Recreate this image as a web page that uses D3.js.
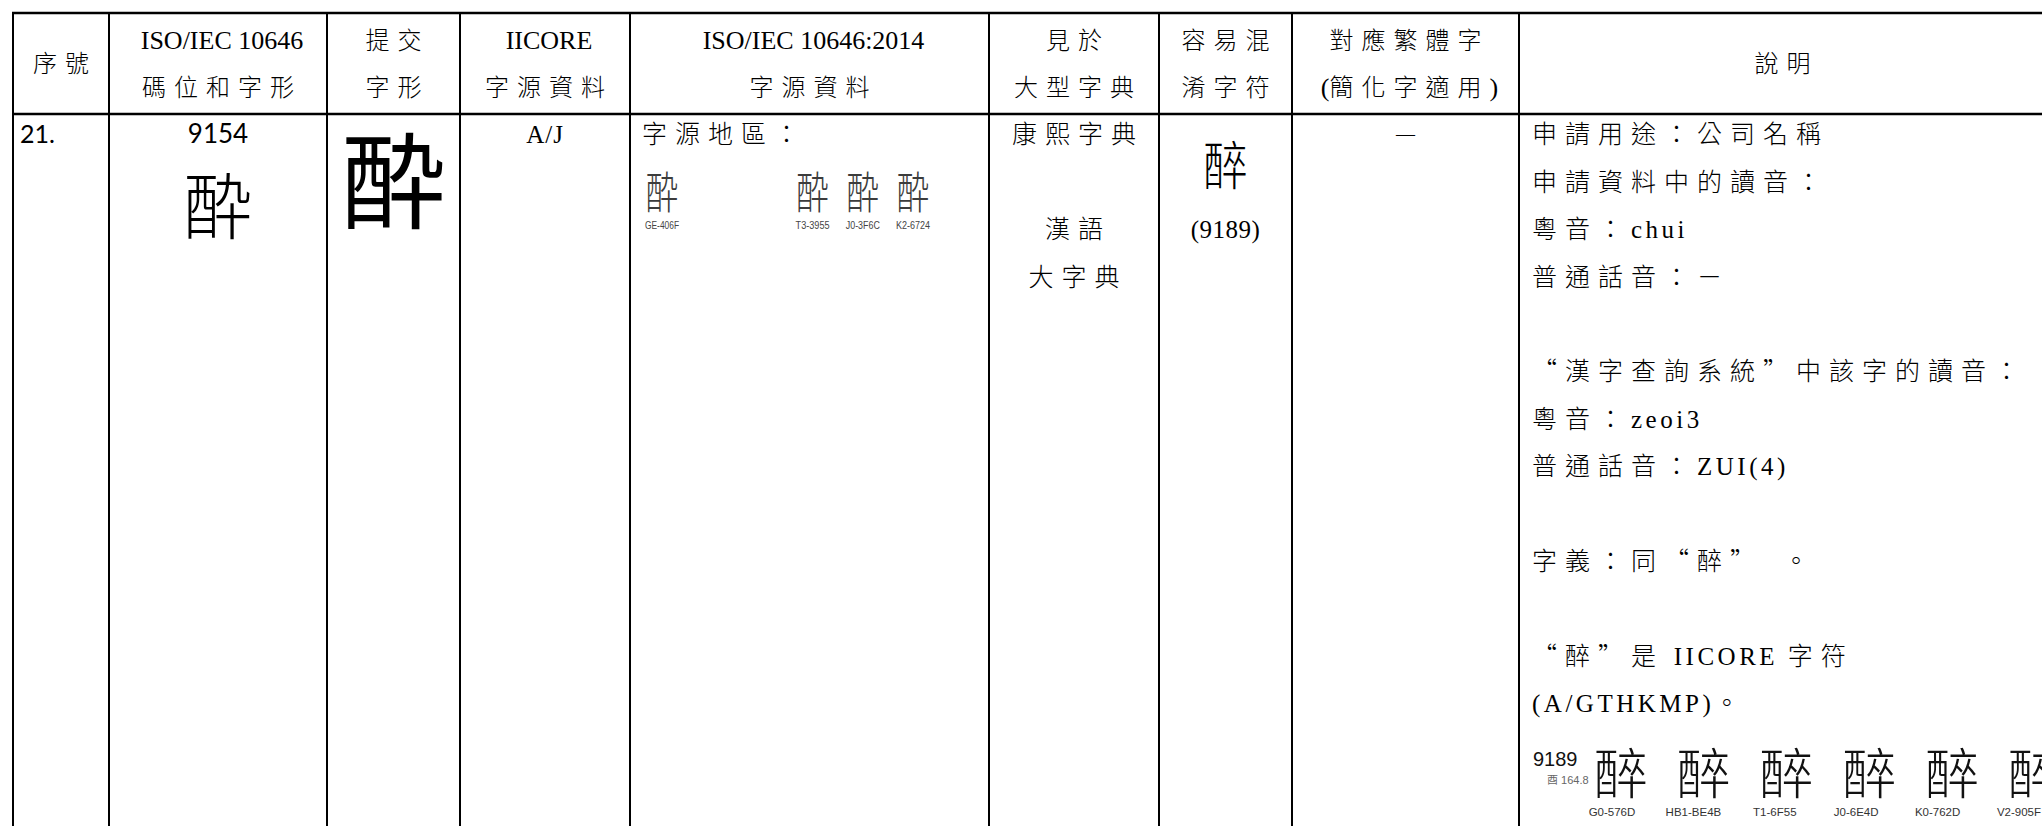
<!DOCTYPE html>
<html><head><meta charset="utf-8">
<script src="https://cdn.jsdelivr.net/npm/d3@7/dist/d3.min.js"></script>
<style>html,body{margin:0;padding:0;background:#fff;overflow:hidden} svg{display:block}</style>
</head><body>
<svg id="c" width="2042" height="826"></svg>
<script>
// ---------------- DATA ----------------
const headerLine1 = ["序號","ISO/IEC 10646","提交","IICORE","ISO/IEC 10646:2014","見於","容易混","對應繁體字","說明"];
const headerLine2 = ["","碼位和字形","字形","字源資料","字源資料","大型字典","淆字符","(簡化字適用)",""];
const serialNo = "21.";
const codePoint = "9154";
const proposedChar = "酔";
const iicoreSource = "A/J";
const sourceLabel = "字源地區：";
const sourceGlyphs = ["酔","","","酔","酔","酔"];
const sourceCodes = ["GE-406F","","","T3-3955","J0-3F6C","K2-6724"];
const dictionaryLines = ["康熙字典","","漢語","大字典"];
const confusableChar = "醉";
const confusableCode = "(9189)";
const simplifiedMapping = ["—"];
const notesLines = ["申請用途：公司名稱","申請資料中的讀音：","粵音：chui","普通話音：－","","“漢字查詢系統”中該字的讀音：","粵音：zeoi3","普通話音：ZUI(4)","","字義：同“醉”　。","","“醉”是 IICORE 字符","(A/GTHKMP)。"];
const refCode = "9189";
const refRadical = "酉 164.8";
const refGlyphs = ["醉","醉","醉","醉","醉","醉"];
const refSources = ["G0-576D","HB1-BE4B","T1-6F55","J0-6E4D","K0-762D","V2-905F"];

// ---------------- LAYOUT ----------------
const W = 2042, H = 826;
const colEdges = [13,109,327,460,630,989,1159,1292,1519,2046];
const topY = 13, headY = 114;
const cjkFont = "'Noto Sans CJK TC','Noto Sans CJK SC',sans-serif";
const jpFont = "'Noto Sans CJK JP','Noto Sans CJK TC',sans-serif";
const serif = "'Liberation Serif','Times New Roman',serif";
const sans = "Lato,'Liberation Sans',sans-serif";
const narrow = "'Liberation Sans Narrow','Liberation Sans',Arial,sans-serif";

const svg = d3.select("#c");
const colX = d3.scaleOrdinal().domain(d3.range(9)).range(d3.range(9).map(i => (colEdges[i]+colEdges[i+1])/2));
const headLineY = d3.scaleLinear().domain([0,1]).range([40, 87]);
const lineY = d3.scaleLinear().domain([0,12]).range([134, 703]);

const CJK = /[\u2E80-\u9FFF\u3000-\u303F\uFF00-\uFFEF\u201C\u201D]/;
function runs(str){
  const out=[];
  for (const ch of str){
    const c = CJK.test(ch);
    if (out.length && out[out.length-1].c===c) out[out.length-1].t += ch;
    else out.push({t:ch, c});
  }
  return out;
}
function rich(g, str, x, cy, anchor, cfg){
  const size = cfg.cjkSize;
  const t = g.append("text")
    .attr("x", anchor==="middle" ? x + cfg.cjkSp/2 : x)
    .attr("y", cy + 0.37*size)
    .attr("text-anchor", anchor)
    .attr("fill", "#000");
  runs(str).forEach(r => {
    t.append("tspan").text(r.t)
      .style("font-family", r.c ? cjkFont : (cfg.latFont||serif))
      .style("font-weight", r.c ? 300 : 400)
      .style("font-size", (r.c ? cfg.cjkSize : cfg.latSize) + "px")
      .style("letter-spacing", (r.c ? cfg.cjkSp : cfg.latSp) + "px");
  });
  return t;
}

// ---------------- GRID ----------------
const grid = svg.append("g").attr("stroke","#000");
grid.selectAll("line.v").data(colEdges).join("line")
  .attr("x1", d=>d).attr("x2", d=>d).attr("y1", topY).attr("y2", H)
  .attr("stroke-width", 2);
grid.selectAll("line.h").data([topY, headY]).join("line")
  .attr("x1", colEdges[0]-1).attr("x2", W).attr("y1", d=>d).attr("y2", d=>d)
  .attr("stroke-width", 2.5);

// ---------------- HEADER ----------------
const hdr = svg.append("g");
const headCfg = {cjkSize:24, cjkSp:8, latSize:26, latSp:0};
headerLine1.forEach((t,i) => {
  const l2 = headerLine2[i];
  if (l2 === "") {
    rich(hdr, t, colX(i), (topY+headY)/2, "middle", headCfg);
  } else {
    rich(hdr, t, colX(i), headLineY(0), "middle", headCfg);
    rich(hdr, l2, colX(i), headLineY(1), "middle", headCfg);
  }
});

// ---------------- BODY ----------------
const body = svg.append("g");
const bodyCfg = {cjkSize:25, cjkSp:8, latSize:25, latSp:3.5};

// col 0: serial number
body.append("text").attr("x", 20).attr("y", lineY(0) + 9)
  .style("font-family", sans).style("font-size","25px").text(serialNo);

// col 1: code point + glyph
body.append("text").attr("x", colX(1)).attr("y", lineY(0) + 9).attr("text-anchor","middle")
  .style("font-family", sans).style("font-size","26px").text(codePoint);
body.append("g").attr("transform", `translate(${colX(1)},${206 + 0.38*72}) scale(0.95,1)`)
  .append("text").attr("text-anchor","middle")
  .style("font-family", jpFont).style("font-size","72px").style("font-weight",300).text(proposedChar);

// col 2: submitted glyph
body.append("text").attr("x", colX(2)).attr("y", 181 + 0.38*104).attr("text-anchor","middle")
  .style("font-family", jpFont).style("font-size","104px").style("font-weight",400).text(proposedChar);

// col 3: IICORE
rich(body, iicoreSource, colX(3), lineY(0), "middle", {cjkSize:25, cjkSp:0, latSize:25, latSp:1});

// col 4: source glyphs
rich(body, sourceLabel, colEdges[4] + 12, lineY(0), "start", bodyCfg);
const srcX = d3.scalePoint().domain(d3.range(sourceCodes.length)).range([662, 913]);
const sg = body.selectAll("g.sg").data(sourceGlyphs).join("g").attr("class","sg")
  .attr("transform", (d,i)=>`translate(${srcX(i)},${192 + 0.38*44}) scale(0.74,1)`);
sg.append("text").attr("text-anchor","middle")
  .style("font-family", jpFont).style("font-size","44px").style("font-weight",300)
  .attr("fill","#3c3c3c").text(d=>d);
body.selectAll("text.sc").data(sourceCodes.filter(d=>d)).join("text").attr("class","sc")
  .attr("x", d=>srcX(sourceCodes.indexOf(d))).attr("y", 229).attr("text-anchor","middle")
  .attr("textLength", 34).attr("lengthAdjust","spacingAndGlyphs")
  .style("font-family", narrow).style("font-size","10px")
  .attr("fill","#444").text(d=>d);

// col 5: dictionaries
dictionaryLines.forEach((t,i) => { if (t) rich(body, t, colX(5), lineY(i), "middle", bodyCfg); });

// col 6: confusable
body.append("g").attr("transform", `translate(${colX(6)},${165 + 0.38*52}) scale(0.85,1)`)
  .append("text").attr("text-anchor","middle")
  .style("font-family", cjkFont).style("font-size","52px").style("font-weight",300).text(confusableChar);
rich(body, confusableCode, colX(6), lineY(2), "middle", {cjkSize:25, cjkSp:0, latSize:25, latSp:0.5});

// col 7: simplified mapping
simplifiedMapping.forEach((t,i) => {
  body.append("text").attr("x", colX(7)).attr("y", lineY(i) + 6).attr("text-anchor","middle")
    .style("font-family", serif).style("font-size","19px").text(t);
});

// col 8: notes
notesLines.forEach((t,i) => { if (t) rich(body, t, colEdges[8] + 13, lineY(i), "start", bodyCfg); });

// reference glyph row
body.append("text").attr("x", colEdges[8] + 14).attr("y", 766)
  .style("font-family", "'Liberation Sans',Arial,sans-serif").style("font-size","20px").attr("fill","#111").text(refCode);
body.append("text").attr("x", colEdges[8] + 28).attr("y", 784)
  .style("font-family", "'Liberation Sans','Noto Sans CJK TC',sans-serif").style("font-size","11px").attr("fill","#666").text(refRadical);
const refX = d3.scalePoint().domain(refSources).range([1621, 2035]);
const refLabelX = d3.scalePoint().domain(refSources).range([1612, 2019]);
body.selectAll("text.rg").data(refGlyphs).join("text").attr("class","rg")
  .attr("x", (d,i)=>refX(refSources[i])).attr("y", 773 + 0.38*54).attr("text-anchor","middle")
  .style("font-family", cjkFont).style("font-size","54px").style("font-weight",300)
  .attr("fill","#111").text(d=>d);
body.selectAll("text.rs").data(refSources).join("text").attr("class","rs")
  .attr("x", d=>refLabelX(d)).attr("y", 816).attr("text-anchor","middle")
  .style("font-family", narrow).style("font-size","11.5px")
  .attr("fill","#333").text(d=>d);
</script>
</body></html>
